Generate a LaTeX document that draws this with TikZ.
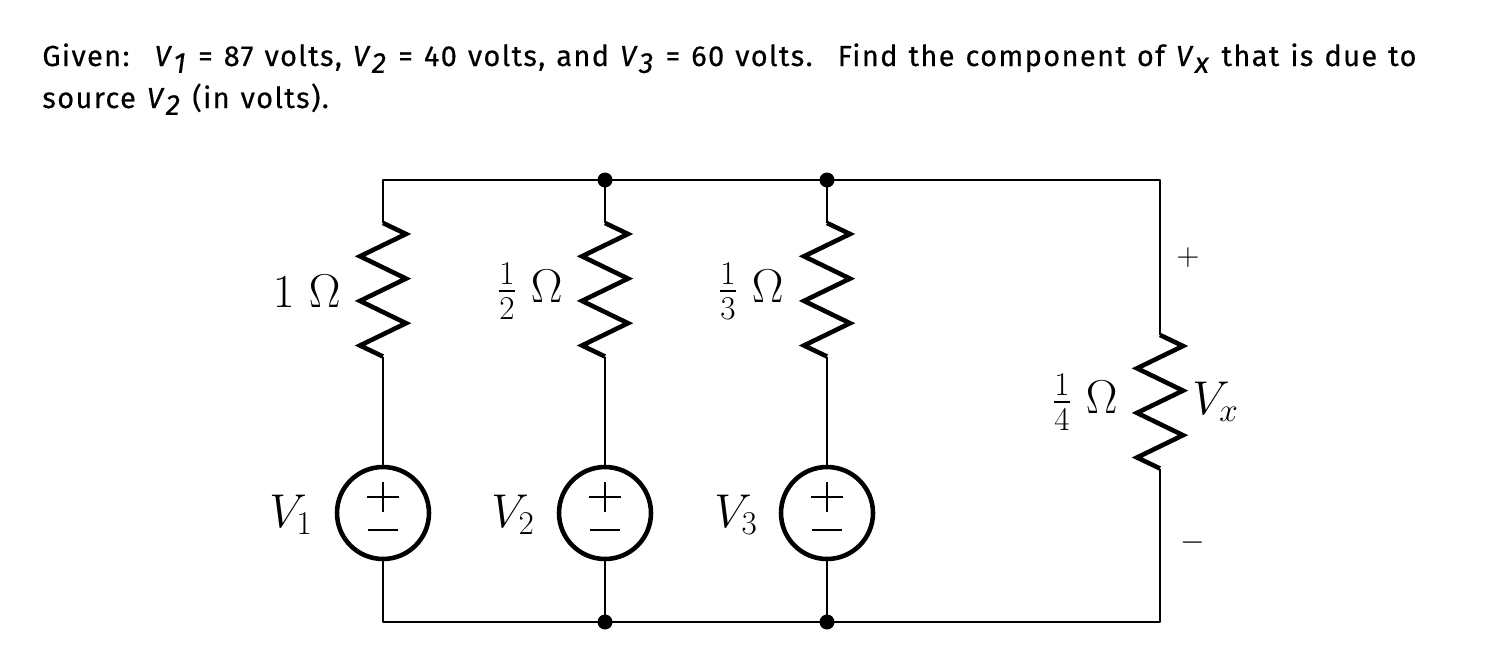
\documentclass[tikz,border=0pt]{standalone}
\usepackage{fix-cm}
\usepackage{amsmath, amssymb}
\usepackage[no-math]{fontspec}
\newfontfamily\givenfont[LetterSpace=4.7, WordSpace=1.22, FakeBold=0.4]{Fira Sans}
\usepackage{tikz}

\newcommand\vsub[1]{\textit{V}\raisebox{-0.45ex}{\textit{#1}}}

\tikzset{
	wire/.style={line width=1.1pt, line join=round},
	res/.style={line width=2.6pt, line join=miter},
	src/.style={circle, draw, line width=2.6pt, inner sep=0pt, minimum size=1.84cm},
	sign/.style={line width=0.8pt},
	lbl/.style={font=\fontsize{27}{32}\selectfont, inner sep=0pt},
	pm/.style={font=\fontsize{18}{22}\selectfont, inner sep=0pt},
	headtext/.style={font=\givenfont\fontsize{16.5}{20}\selectfont, inner sep=0pt},
}

\begin{document}
\begin{tikzpicture}[x=0.02cm,y=-0.02cm]
		\useasboundingbox (0,0) rectangle (1494,656);
		\node[headtext, anchor=base west] (given) at (42,66) {Given: \ \vsub{1} = 87 volts, \vsub{2} = 40 volts, and \vsub{3} = 60 volts. \ Find the component of \vsub{x} that is due to};
		\node[headtext, anchor=base west] (source) at (42,108) {source \vsub{2} (in volts).};
		\foreach \nm/\bx/\ya in {a/383/223,b/605/223,c/827/223,d/1160/335} {
			\coordinate (\nm-t) at (\bx,180);
			\coordinate (\nm-b) at (\bx,622);
			\draw[res] (\bx,\ya) coordinate (\nm-r) -- ++(23,11) -- ++(-46,22.3) -- ++(46,22.3) -- ++(-46,22.3) -- ++(46,22.3) -- ++(-46,22.3) -- ++(23,11) coordinate (\nm-s);
		}
		\foreach \nm/\bx in {a/383,b/605,c/827} {
			\node[src] (\nm-v) at (\bx,513) {};
			\draw[sign] (\nm-v) ++(-16,-16) -- ++(32,0);
			\draw[sign] (\nm-v) ++(0,-31) -- ++(0,30);
			\draw[sign] (\nm-v) ++(-15,17) -- ++(30,0);
			\draw[wire] (\nm-s) -- (\nm-v.north);
			\draw[wire] (\nm-v.south) -- (\nm-b);
		}
		\draw[wire] (a-r) -- (a-t) -- (d-t) -- (d-r);
		\draw[wire] (b-t) -- (b-r);
		\draw[wire] (c-t) -- (c-r);
		\draw[wire] (d-s) -- (d-b) -- (a-b) -- (a-v.south);
		\fill (b-t) circle (0.15cm);
		\fill (c-t) circle (0.15cm);
		\fill (b-b) circle (0.15cm);
		\fill (c-b) circle (0.15cm);
		\node[lbl, anchor=east] (a-lab) at (341,291) {$1\ \Omega$};
		\node[lbl, anchor=east] (b-lab) at (563,291) {$\frac{1}{2}\ \Omega$};
		\node[lbl, anchor=east] (c-lab) at (784,291) {$\frac{1}{3}\ \Omega$};
		\node[lbl, anchor=east] (d-lab) at (1118,402) {$\frac{1}{4}\ \Omega$};
		\node[lbl, anchor=west] (vx) at (1192,402) {$V_x$};
		\node[lbl, anchor=east] (a-name) at (313,515) {$V_1$};
		\node[lbl, anchor=east] (b-name) at (535,515) {$V_2$};
		\node[lbl, anchor=east] (c-name) at (758,515) {$V_3$};
		\node[pm] (plus) at (1188,258) {$+$};
		\node[pm] (minus) at (1193,543) {$-$};
	\end{tikzpicture}
\end{document}
